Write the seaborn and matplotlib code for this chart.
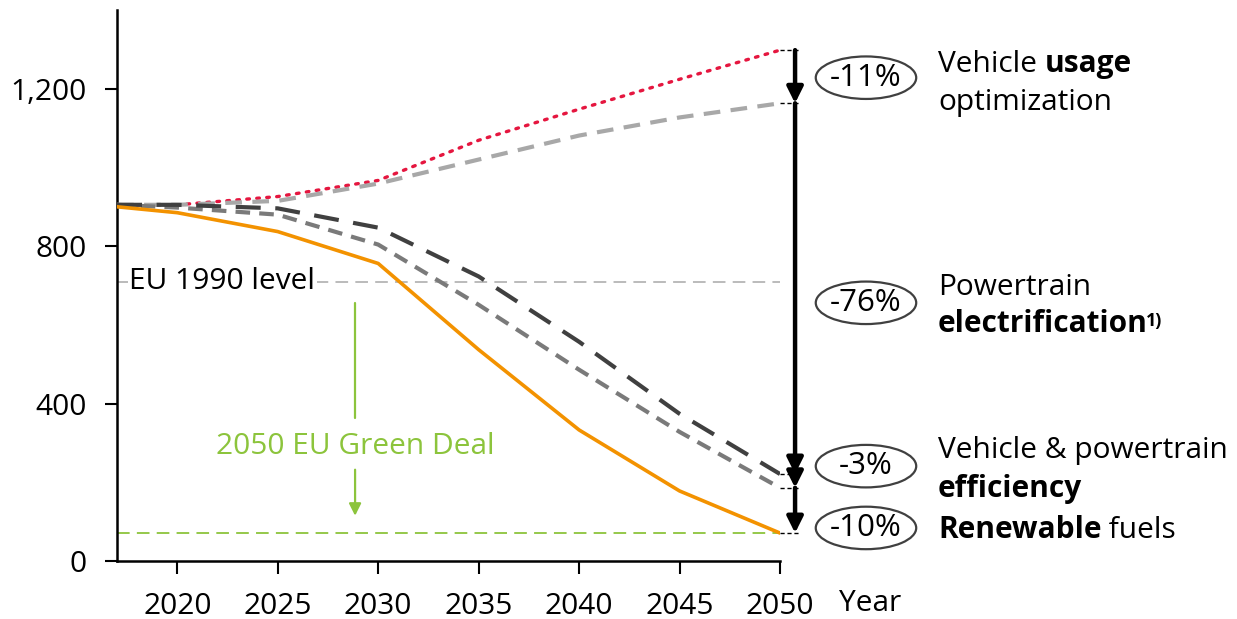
import matplotlib
matplotlib.use("Agg")
import matplotlib.pyplot as plt
import seaborn as sns
import pandas as pd
from matplotlib.patches import Ellipse

# ---------------- data ----------------
years = [2017, 2020, 2025, 2030, 2035, 2040, 2045, 2050]
baseline = [905, 905, 926, 967, 1069, 1148, 1224, 1298]
usage_optimized = [905, 905, 915, 959, 1020, 1081, 1127, 1163]
electrified = [905, 905, 896, 847, 723, 557, 374, 221]
efficient = [905, 898, 880, 804, 651, 486, 328, 186]
renewable = [900, 885, 837, 756, 537, 333, 178, 71]
eu_1990_level = 710
green_deal_level = 71

x_ticks = [2020, 2025, 2030, 2035, 2040, 2045, 2050]
y_ticks = [0, 400, 800, 1200]
y_tick_labels = ["0", "400", "800", "1,200"]

step_levels = [1298, 1163, 221, 186, 71]
reductions = ["-11%", "-76%", "-3%", "-10%"]
reduction_label_y = [1228, 656, 241, 84]
levers = [
    [[("Vehicle ", "normal"), ("usage", "bold")], [("optimization", "normal")]],
    [[("Powertrain", "normal")], [("electrification", "bold"), ("1)", "sup")]],
    [[("Vehicle & powertrain", "normal")], [("efficiency", "bold")]],
    [[("Renewable", "bold"), (" fuels", "normal")]],
]
lever_line_y = [[1262, 1165], [696, 601], [281, 182], [79]]

# ---------------- style ----------------
sns.set_style("white")
plt.rcParams["font.family"] = ["Open Sans", "DejaVu Sans"]
plt.rcParams["text.color"] = "black"
plt.rcParams["xtick.color"] = "black"
plt.rcParams["ytick.color"] = "black"
FS = 21.5

fig = plt.figure(figsize=(12.37, 6.19), dpi=100)
ax = fig.add_axes([117 / 1237, 1 - 561 / 619, (780 - 117) / 1237, (561 - 10) / 619])

df = pd.DataFrame({"year": years, "baseline": baseline, "usage": usage_optimized,
                   "elec": electrified, "eff": efficient, "ren": renewable})

# reference lines
ax.axhline(eu_1990_level, color="#b5b5b5", lw=1.3, ls=(0, (7, 4)), zorder=1)
ax.axhline(green_deal_level, color="#8cc43c", lw=1.3, ls=(0, (7, 4)), zorder=1)

sns.lineplot(data=df, x="year", y="baseline", ax=ax, color="#e5163f", lw=2.4,
             linestyle=(0, (0.8, 2.2)), dash_capstyle="round", zorder=3)
sns.lineplot(data=df, x="year", y="usage", ax=ax, color="#a8a8a8", lw=3,
             linestyle=(0, (4, 2.5)), zorder=3)
sns.lineplot(data=df, x="year", y="eff", ax=ax, color="#7a7a7a", lw=3,
             linestyle=(0, (3.5, 2.2)), zorder=4)
sns.lineplot(data=df, x="year", y="elec", ax=ax, color="#404040", lw=3,
             linestyle=(0, (6, 3.5)), zorder=4)
sns.lineplot(data=df, x="year", y="ren", ax=ax, color="#f39200", lw=2.6, zorder=5)

ax.set_xlim(2017, 2050)
ax.set_ylim(0, 1400)
ax.set_xticks(x_ticks)
ax.set_yticks(y_ticks)
ax.set_yticklabels(y_tick_labels)
ax.set_xlabel("")
ax.set_ylabel("")
for s in ["top", "right"]:
    ax.spines[s].set_visible(False)
for s in ["left", "bottom"]:
    ax.spines[s].set_color("black")
    ax.spines[s].set_linewidth(1.8)
ax.tick_params(axis="y", length=9, width=1.5, pad=13, labelsize=FS, colors="black", left=True)
ax.tick_params(axis="x", length=9, width=1.5, pad=13, labelsize=FS, colors="black", bottom=True)

ax.text(2054.5, -109, "Year", fontsize=FS, ha="center", va="center", clip_on=False)

# EU 1990 label
ax.text(2017.6, eu_1990_level, "EU 1990 level", fontsize=FS, ha="left", va="center",
        bbox=dict(facecolor="white", edgecolor="none", pad=1), zorder=2)

# Green deal arrow + label
gx = 2028.85
green = "#8cc43c"
ax.plot([gx, gx], [656, 364], color=green, lw=1.6, zorder=2)
ax.text(gx, 292, "2050 EU Green Deal", fontsize=FS, color=green, ha="center", va="center")
ax.annotate("", xy=(gx, 115), xytext=(gx, 232),
            arrowprops=dict(arrowstyle="-|>", color=green, lw=1.6, mutation_scale=18,
                            shrinkA=0, shrinkB=0))

# right-side stepped arrow
ax_x = 2050.75
for lv in step_levels:
    ax.plot([2050, 2051.0], [lv, lv], color="black", lw=1.0, ls=(0, (3, 2)), clip_on=False)
for top, bot in zip(step_levels[:-1], step_levels[1:]):
    ax.annotate("", xy=(ax_x, bot), xytext=(ax_x, top), annotation_clip=False,
                arrowprops=dict(arrowstyle="-|>", color="black", lw=3.2, mutation_scale=24,
                                shrinkA=0, shrinkB=0))

# ellipses with percentages
for lab, yv in zip(reductions, reduction_label_y):
    e = Ellipse((2054.28, yv), width=5.0, height=108, facecolor="white",
                edgecolor="#404040", lw=1.6, clip_on=False, zorder=6)
    ax.add_patch(e)
    ax.text(2054.28, yv, lab, fontsize=FS + 1, ha="center", va="center", zorder=7, clip_on=False)

# lever texts
tx = 2057.86
for lines, ys in zip(levers, lever_line_y):
    for pieces, yv in zip(lines, ys):
        prev = None
        for txt, kind in pieces:
            if prev is None:
                prev = ax.text(tx, yv, txt, fontsize=FS, ha="left", va="center",
                               fontweight="bold" if kind == "bold" else "normal", clip_on=False)
            elif kind == "sup":
                prev = ax.annotate(txt, xy=(1, 1), xycoords=prev, xytext=(-1.5, -2),
                                   textcoords="offset points", fontsize=FS * 0.6,
                                   fontweight="bold", ha="left", va="top")
            else:
                prev = ax.annotate(txt, xy=(1, 0), xycoords=prev, fontsize=FS,
                                   ha="left", va="bottom",
                                   fontweight="bold" if kind == "bold" else "normal")

fig.savefig("out.png", dpi=100)
